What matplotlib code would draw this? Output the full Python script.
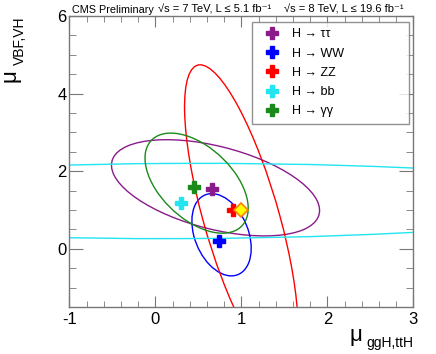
import numpy as np
import matplotlib
matplotlib.use("Agg")
import matplotlib.pyplot as plt
from matplotlib.patches import Ellipse
from matplotlib.lines import Line2D
from matplotlib.ticker import MultipleLocator

plt.rcParams["font.family"] = ["Liberation Sans", "DejaVu Sans"]
plt.rcParams["axes.unicode_minus"] = False

# channel order as in the legend
channels = ["H → ττ", "H → WW", "H → ZZ", "H → bb", "H → γγ"]
colors = ["#8b1a8b", "#0000ff", "#ff0000", "#22e5f0", "#1a8a1a"]

# best-fit points (mu_ggH,ttH ; mu_VBF,VH)
best_x = [0.66, 0.74, 0.90, 0.30, 0.45]
best_y = [1.53, 0.21, 1.00, 1.17, 1.59]

# 68% CL contours: centre, widths and correlation
cont_x = [0.70, 0.77, 1.00, 0.30, 0.48]
cont_y = [1.57, 0.36, 0.80, 1.23, 1.69]
sig_x = [1.21, 0.345, 0.66, 5.2, 0.60]
sig_y = [1.24, 1.06, 3.94, 0.97, 1.29]
rho = [-0.47, -0.33, -0.726, 0.04, -0.50]

# SM expectation
sm_x, sm_y = 1.0, 1.0


def contour(ax, cx, cy, sx, sy, r, color):
    cov = np.array([[sx * sx, r * sx * sy], [r * sx * sy, sy * sy]])
    vals, vecs = np.linalg.eigh(cov)
    ang = np.degrees(np.arctan2(vecs[1, 1], vecs[0, 1]))
    ell = Ellipse((cx, cy), 2 * np.sqrt(vals[1]), 2 * np.sqrt(vals[0]),
                  angle=ang, fill=False, edgecolor=color, lw=1.0)
    ax.add_patch(ell)


fig = plt.figure(figsize=(4.36, 3.54), dpi=100)
ax = fig.add_axes([0.159, 0.133, 0.789, 0.822])

for i in range(len(channels)):
    contour(ax, cont_x[i], cont_y[i], sig_x[i], sig_y[i], rho[i], colors[i])

for i in range(len(channels)):
    ax.plot(best_x[i], best_y[i], marker="P", ms=8, color=colors[i],
            mec=colors[i], ls="none", zorder=5)

ax.plot(sm_x, sm_y, marker="D", ms=7, mfc="#ffff00", mec="#ff7f00",
        mew=1.2, ls="none", zorder=6)

ax.set_xlim(-1, 3)
ax.set_ylim(-1.5, 6)
ax.xaxis.set_major_locator(MultipleLocator(1))
ax.xaxis.set_minor_locator(MultipleLocator(0.2))
ax.yaxis.set_major_locator(MultipleLocator(2))
ax.yaxis.set_minor_locator(MultipleLocator(0.5))
ax.tick_params(which="both", direction="in", top=True, right=True,
               color="#777777", labelsize=12)
ax.tick_params(axis="x", which="major", length=8, pad=4)
ax.tick_params(axis="x", which="minor", length=4)
ax.tick_params(axis="y", which="major", length=10, pad=2)
ax.tick_params(axis="y", which="minor", length=5)
for s in ax.spines.values():
    s.set_color("#777777")
    s.set_linewidth(1.0)

# axis titles
fig.text(349 / 436, 1 - 341 / 354, "μ", fontsize=16, ha="left", va="baseline")
fig.text(413 / 436, 1 - 347 / 354, "ggH,ttH", fontsize=10, ha="right",
         va="baseline")
fig.text(0 / 436, 1 - 82 / 354, "μ", fontsize=16, rotation=90,
         ha="left", va="bottom")
fig.text(13 / 436, 1 - 65 / 354, "VBF,VH", fontsize=10, rotation=90,
         ha="left", va="bottom")

fig.text(72 / 436, 1 - 13 / 354, "CMS Preliminary", fontsize=7.8)
fig.text(158 / 436, 1 - 13 / 354, "√s = 7 TeV, L ≤ 5.1 fb⁻¹", fontsize=8)
fig.text(284 / 436, 1 - 13 / 354, "√s = 8 TeV, L ≤ 19.6 fb⁻¹", fontsize=8)

handles = [Line2D([], [], marker="P", ms=8, color=c, ls="none") for c in colors]
leg = ax.legend(handles, channels, loc="upper left",
                bbox_to_anchor=(0.530, 0.643, 0.457, 0.336), mode="expand",
                borderaxespad=0, fontsize=9, frameon=True, fancybox=False,
                edgecolor="#777777", labelspacing=0.58, handletextpad=0.5,
                borderpad=0.5, handlelength=2.2)
leg.get_frame().set_linewidth(1.0)

fig.savefig("out.png", dpi=100)
